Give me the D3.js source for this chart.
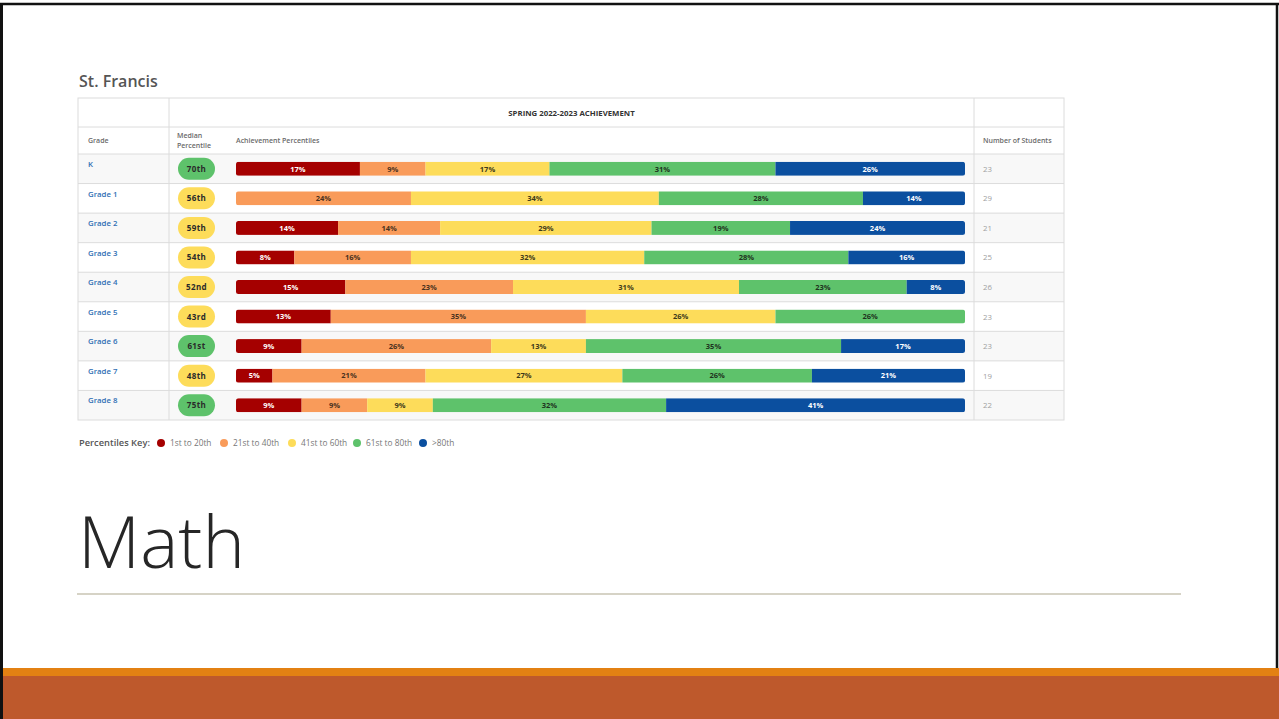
<!DOCTYPE html>
<html>
<head>
<meta charset="utf-8">
<script src="https://cdn.jsdelivr.net/npm/d3@7"></script>
<style>
  html, body { margin: 0; padding: 0; background: #fff; }
  svg { display: block; }
  text { font-family: "Open Sans", sans-serif; }
</style>
</head>
<body>
<div class="chart"></div>
<script>
// data
const grades = ['K', 'Grade 1', 'Grade 2', 'Grade 3', 'Grade 4', 'Grade 5', 'Grade 6', 'Grade 7', 'Grade 8']
const medians = ['70th', '56th', '59th', '54th', '52nd', '43rd', '61st', '48th', '75th']
const medianBand = ['high', 'mid', 'mid', 'mid', 'mid', 'mid', 'high', 'mid', 'high']
const students = [23, 29, 21, 25, 26, 23, 23, 19, 22]
const bands = ['1st to 20th', '21st to 40th', '41st to 60th', '61st to 80th', '>80th']
const pct1to20 = [17, 0, 14, 8, 15, 13, 9, 5, 9]
const pct21to40 = [9, 24, 14, 16, 23, 35, 26, 21, 9]
const pct41to60 = [17, 34, 29, 32, 31, 26, 13, 27, 9]
const pct61to80 = [31, 28, 19, 28, 23, 26, 35, 26, 32]
const pctAbove80 = [26, 14, 24, 16, 8, 0, 17, 21, 41]

const W = 1279, H = 719
const colors = ['#a50000', '#f99b5a', '#fddc5a', '#5ec26b', '#0b4f9f']
const labelColors = ['#fff', '#4a3220', '#3e3a1a', '#1f3320', '#fff']

const svg = d3.select('.chart').append('svg')
  .attr('width', W).attr('height', H)

// slide frame + bottom bands
svg.append('rect').attr('x', 0).attr('y', 668).attr('width', W).attr('height', 8).attr('fill', '#e38113')
svg.append('rect').attr('x', 0).attr('y', 676).attr('width', W).attr('height', 43).attr('fill', '#be592c')
svg.append('line').attr('x1', 1.5).attr('x2', 1.5).attr('y1', 3).attr('y2', H).attr('stroke', '#111').attr('stroke-width', 3)
svg.append('line').attr('x1', 0).attr('x2', W).attr('y1', 4).attr('y2', 4).attr('stroke', '#111').attr('stroke-width', 2.5)
svg.append('line').attr('x1', 1277).attr('x2', 1277).attr('y1', 3).attr('y2', 668).attr('stroke', '#111').attr('stroke-width', 2.5)

// title
svg.append('text').attr('x', 79).attr('y', 87)
  .attr('font-size', 16).attr('font-weight', 600).attr('fill', '#555')
  .text('St. Francis')

// table geometry
const tLeft = 78, tRight = 1064, col1 = 169, col2 = 974
const hTop = 98, h1 = 127, h2 = 154
const y = d3.scaleBand().domain(grades).range([h2, 420])
const x = d3.scaleLinear().domain([0, 100]).range([236, 965])

// row backgrounds
svg.selectAll('.rowbg').data(grades).join('rect')
  .attr('x', tLeft).attr('width', tRight - tLeft)
  .attr('y', d => y(d)).attr('height', y.bandwidth())
  .attr('fill', (d, i) => i % 2 == 0 ? '#f8f8f8' : '#fff')

// grid lines
const gridColor = '#dcdcdc'
svg.append('rect').attr('x', tLeft).attr('y', hTop).attr('width', tRight - tLeft).attr('height', 420 - hTop)
  .attr('fill', 'none').attr('stroke', gridColor)
;[col1, col2].forEach(cx => {
  svg.append('line').attr('x1', cx).attr('x2', cx).attr('y1', hTop).attr('y2', 420).attr('stroke', gridColor)
})
svg.append('line').attr('x1', tLeft).attr('x2', tRight).attr('y1', h1).attr('y2', h1).attr('stroke', gridColor)
svg.selectAll('.hline').data(grades).join('line')
  .attr('x1', tLeft).attr('x2', tRight)
  .attr('y1', d => y(d)).attr('y2', d => y(d))
  .attr('stroke', gridColor)

// headers
svg.append('text').attr('x', (col1 + col2) / 2).attr('y', 116).attr('text-anchor', 'middle')
  .attr('font-size', 7.8).attr('font-weight', 700).attr('fill', '#333')
  .text('SPRING 2022-2023 ACHIEVEMENT')
const hdr = (tx, ty, s) => svg.append('text').attr('x', tx).attr('y', ty)
  .attr('font-size', 7).attr('font-weight', 600).attr('fill', '#6a6a6a').text(s)
hdr(88, 143, 'Grade')
hdr(177, 138, 'Median')
hdr(177, 148, 'Percentile')
hdr(236, 143, 'Achievement Percentiles')
hdr(983, 143, 'Number of Students')

// grade labels
svg.selectAll('.grade').data(grades).join('text')
  .attr('x', 88).attr('y', d => y(d) + 13)
  .attr('font-size', 7.8).attr('font-weight', 600).attr('fill', '#2f6fb4')
  .text(d => d)

// median pills
const mid = d => y(d) + y.bandwidth() / 2
svg.selectAll('.pill').data(grades).join('rect')
  .attr('x', 178).attr('width', 37)
  .attr('y', d => mid(d) - 11).attr('height', 22).attr('rx', 11)
  .attr('fill', (d, i) => medianBand[i] == 'high' ? '#5ec26b' : '#fddc5a')
svg.selectAll('.pilltext').data(grades).join('text')
  .attr('x', 196.5).attr('y', d => mid(d) + 3)
  .attr('text-anchor', 'middle')
  .attr('font-size', 8).attr('font-weight', 700).attr('fill', '#2a2a2a')
  .attr('letter-spacing', 0.4)
  .text((d, i) => medians[i])

// stacked bars
const table = grades.map((g, i) => ({
  grade: g,
  b0: pct1to20[i], b1: pct21to40[i], b2: pct41to60[i], b3: pct61to80[i], b4: pctAbove80[i]
}))
const stack = d3.stack().keys(['b0', 'b1', 'b2', 'b3', 'b4'])(table)

svg.selectAll('.clip').data(grades).join('clipPath')
  .attr('id', (d, i) => 'clip' + i)
  .append('rect')
  .attr('x', x(0)).attr('width', x(100) - x(0))
  .attr('y', d => mid(d) - 7).attr('height', 14).attr('rx', 2.5)

const layer = svg.selectAll('.layer').data(stack).join('g')
  .attr('fill', (d, i) => colors[i])
layer.selectAll('rect').data(d => d).join('rect')
  .attr('clip-path', (d, i) => 'url(#clip' + i + ')')
  .attr('x', d => x(d[0]))
  .attr('width', d => x(d[1]) - x(d[0]))
  .attr('y', d => mid(d.data.grade) - 7)
  .attr('height', 14)

const labels = svg.selectAll('.lbl').data(stack).join('g')
labels.selectAll('text').data((d, k) => d.map(v => ({ v, k }))).join('text')
  .filter(d => d.v[1] - d.v[0] > 0)
  .attr('x', d => (x(d.v[0]) + x(d.v[1])) / 2)
  .attr('y', d => mid(d.v.data.grade) + 2.8)
  .attr('text-anchor', 'middle')
  .attr('font-size', 7.5).attr('font-weight', 700)
  .attr('fill', d => labelColors[d.k])
  .text(d => (d.v[1] - d.v[0]) + '%')

// number of students
svg.selectAll('.num').data(grades).join('text')
  .attr('x', 983).attr('y', d => mid(d) + 3)
  .attr('font-size', 7.8).attr('fill', '#a0a0a0')
  .text((d, i) => students[i])

// legend
svg.append('text').attr('x', 79).attr('y', 446)
  .attr('font-size', 9.3).attr('font-weight', 600).attr('fill', '#555')
  .text('Percentiles Key:')
const legX = [161, 224, 292, 357, 423]
const leg = svg.selectAll('.leg').data(bands).join('g')
  .attr('transform', (d, i) => 'translate(' + legX[i] + ',443)')
leg.append('circle').attr('r', 4).attr('fill', (d, i) => colors[i])
leg.append('text').attr('x', 9).attr('y', 3)
  .attr('font-size', 8.3).attr('fill', '#777')
  .text(d => d)

// slide title + rule
svg.append('text').attr('x', 78).attr('y', 568)
  .attr('font-size', 72).attr('font-weight', 300).attr('fill', '#262626')
  .text('Math')
svg.append('line').attr('x1', 77).attr('x2', 1181).attr('y1', 594).attr('y2', 594)
  .attr('stroke', '#c9c5b3').attr('stroke-width', 1.5)
</script>
</body>
</html>
